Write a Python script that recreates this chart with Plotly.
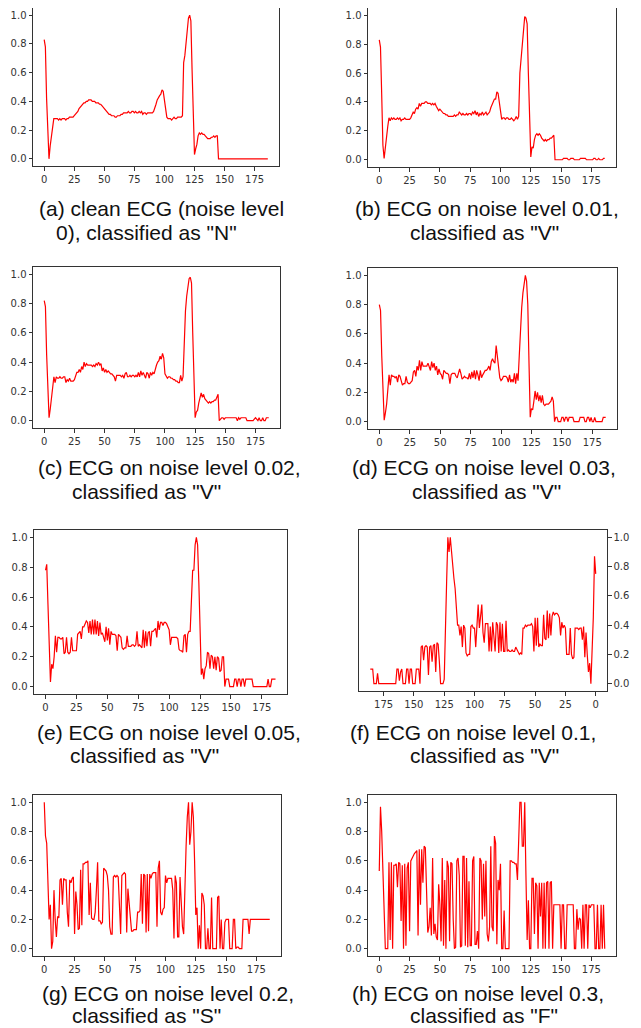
import plotly.graph_objects as go

W, H = 641, 1028
OFF = 8  # default page body margin of the written html

# ---------------- data ----------------
ecg_clean = [
    0.83, 0.78, 0.42, 0.12, 0.00, 0.09, 0.16, 0.23, 0.28, 0.28,
    0.28, 0.28, 0.27, 0.28, 0.27, 0.28, 0.28, 0.28, 0.27, 0.28,
    0.28, 0.29, 0.29, 0.29, 0.29, 0.30, 0.31, 0.32, 0.33, 0.35,
    0.36, 0.37, 0.38, 0.39, 0.39, 0.40, 0.40, 0.41, 0.41, 0.41,
    0.40, 0.40, 0.40, 0.39, 0.39, 0.39, 0.38, 0.38, 0.37, 0.36,
    0.35, 0.34, 0.33, 0.32, 0.31, 0.31, 0.30, 0.30, 0.30, 0.29,
    0.29, 0.30, 0.30, 0.30, 0.31, 0.31, 0.32, 0.32, 0.32, 0.32,
    0.33, 0.32, 0.32, 0.33, 0.33, 0.32, 0.33, 0.32, 0.32, 0.33,
    0.32, 0.33, 0.31, 0.32, 0.32, 0.31, 0.32, 0.32, 0.32, 0.32,
    0.32, 0.33, 0.35, 0.38, 0.41, 0.43, 0.44, 0.45, 0.48, 0.47,
    0.42, 0.35, 0.29, 0.28, 0.28, 0.28, 0.27, 0.28, 0.29, 0.28,
    0.28, 0.29, 0.29, 0.29, 0.29, 0.30, 0.67, 0.72, 0.80, 0.88,
    0.98, 1.00, 0.96, 0.62, 0.30, 0.03, 0.07, 0.10, 0.16, 0.18,
    0.17, 0.18, 0.17, 0.17, 0.16, 0.15, 0.14, 0.14, 0.14, 0.15,
    0.15, 0.16, 0.15, 0.16, 0.16, 0.00, 0.00, 0.00, 0.00, 0.00,
    0.00, 0.00, 0.00, 0.00, 0.00, 0.00, 0.00, 0.00, 0.00, 0.00,
    0.00, 0.00, 0.00, 0.00, 0.00, 0.00, 0.00, 0.00, 0.00, 0.00,
    0.00, 0.00, 0.00, 0.00, 0.00, 0.00, 0.00, 0.00, 0.00, 0.00,
    0.00, 0.00, 0.00, 0.00, 0.00, 0.00, 0.00,
]

ecg_noise_001 = [
    0.83, 0.78, 0.45, 0.10, 0.01, 0.10, 0.18, 0.23, 0.29, 0.27,
    0.29, 0.28, 0.29, 0.28, 0.28, 0.29, 0.28, 0.29, 0.27, 0.28,
    0.28, 0.29, 0.28, 0.28, 0.28, 0.28, 0.29, 0.31, 0.33, 0.32,
    0.35, 0.36, 0.35, 0.39, 0.37, 0.39, 0.39, 0.39, 0.40, 0.40,
    0.39, 0.39, 0.39, 0.38, 0.39, 0.38, 0.39, 0.37, 0.35, 0.34,
    0.35, 0.34, 0.33, 0.32, 0.32, 0.31, 0.31, 0.30, 0.30, 0.30,
    0.30, 0.30, 0.31, 0.30, 0.31, 0.31, 0.33, 0.32, 0.31, 0.32,
    0.31, 0.31, 0.32, 0.31, 0.32, 0.32, 0.31, 0.33, 0.32, 0.34,
    0.31, 0.33, 0.30, 0.32, 0.31, 0.33, 0.31, 0.32, 0.33, 0.31,
    0.32, 0.33, 0.36, 0.38, 0.40, 0.42, 0.42, 0.47, 0.46, 0.40,
    0.35, 0.28, 0.29, 0.29, 0.28, 0.29, 0.29, 0.28, 0.28, 0.29,
    0.28, 0.27, 0.28, 0.30, 0.28, 0.30, 0.60, 0.70, 0.80, 0.88,
    0.99, 0.98, 0.94, 0.60, 0.25, 0.02, 0.09, 0.08, 0.14, 0.17,
    0.18, 0.17, 0.18, 0.17, 0.15, 0.14, 0.13, 0.14, 0.13, 0.14,
    0.14, 0.15, 0.15, 0.16, 0.17, 0.00, 0.00, 0.00, 0.00, 0.00,
    0.00, 0.00, 0.01, 0.01, 0.01, 0.01, 0.00, 0.00, 0.01, 0.01,
    0.01, 0.00, 0.00, 0.00, 0.00, 0.00, 0.01, 0.01, 0.01, 0.01,
    0.01, 0.00, 0.00, 0.00, 0.00, 0.00, 0.00, 0.01, 0.01, 0.00,
    0.00, 0.01, 0.00, 0.00, 0.00, 0.01, 0.01,
]

ecg_noise_002 = [
    0.82, 0.78, 0.45, 0.15, 0.02, 0.08, 0.15, 0.22, 0.30, 0.26,
    0.30, 0.29, 0.29, 0.30, 0.29, 0.29, 0.30, 0.30, 0.26, 0.28,
    0.27, 0.29, 0.27, 0.27, 0.27, 0.28, 0.30, 0.33, 0.33, 0.35,
    0.33, 0.37, 0.35, 0.40, 0.37, 0.39, 0.38, 0.38, 0.38, 0.38,
    0.37, 0.38, 0.37, 0.39, 0.38, 0.40, 0.38, 0.39, 0.34, 0.36,
    0.33, 0.35, 0.33, 0.34, 0.33, 0.32, 0.32, 0.31, 0.30, 0.27,
    0.31, 0.31, 0.31, 0.31, 0.30, 0.31, 0.29, 0.32, 0.33, 0.30,
    0.30, 0.31, 0.30, 0.31, 0.31, 0.30, 0.31, 0.30, 0.33, 0.30,
    0.34, 0.31, 0.33, 0.31, 0.29, 0.33, 0.32, 0.29, 0.33, 0.31,
    0.33, 0.32, 0.36, 0.38, 0.40, 0.41, 0.44, 0.42, 0.46, 0.43,
    0.32, 0.30, 0.29, 0.30, 0.30, 0.29, 0.29, 0.28, 0.28, 0.27,
    0.27, 0.26, 0.26, 0.31, 0.27, 0.30, 0.55, 0.75, 0.85, 0.93,
    0.97, 0.98, 0.94, 0.60, 0.25, 0.02, 0.06, 0.07, 0.12, 0.15,
    0.19, 0.16, 0.18, 0.15, 0.14, 0.13, 0.12, 0.13, 0.12, 0.13,
    0.13, 0.14, 0.14, 0.16, 0.18, 0.00, 0.01, 0.02, 0.02, 0.01,
    0.02, 0.02, 0.02, 0.02, 0.02, 0.02, 0.02, 0.02, 0.02, 0.02,
    0.00, 0.02, 0.01, 0.02, 0.02, 0.02, 0.02, 0.02, 0.00, 0.00,
    0.00, 0.00, 0.00, 0.00, 0.01, 0.02, 0.01, 0.00, 0.02, 0.00,
    0.00, 0.02, 0.00, 0.00, 0.02, 0.02, 0.02,
]

ecg_noise_003 = [
    0.80, 0.76, 0.45, 0.15, 0.01, 0.06, 0.12, 0.22, 0.32, 0.25,
    0.32, 0.31, 0.31, 0.30, 0.31, 0.27, 0.32, 0.31, 0.28, 0.25,
    0.26, 0.26, 0.31, 0.27, 0.26, 0.26, 0.27, 0.28, 0.34, 0.35,
    0.31, 0.38, 0.35, 0.42, 0.35, 0.41, 0.38, 0.38, 0.38, 0.38,
    0.40, 0.37, 0.35, 0.41, 0.37, 0.40, 0.35, 0.38, 0.32, 0.36,
    0.33, 0.32, 0.29, 0.35, 0.34, 0.33, 0.33, 0.32, 0.26, 0.32,
    0.33, 0.33, 0.33, 0.31, 0.30, 0.33, 0.36, 0.33, 0.29, 0.30,
    0.31, 0.30, 0.30, 0.29, 0.33, 0.29, 0.34, 0.30, 0.35, 0.29,
    0.35, 0.32, 0.28, 0.35, 0.30, 0.32, 0.34, 0.35, 0.35, 0.36,
    0.38, 0.35, 0.41, 0.43, 0.41, 0.40, 0.52, 0.45, 0.36, 0.30,
    0.28, 0.29, 0.31, 0.31, 0.31, 0.30, 0.27, 0.32, 0.27, 0.29,
    0.27, 0.33, 0.26, 0.33, 0.28, 0.45, 0.65, 0.78, 0.88, 0.95,
    1.00, 0.96, 0.80, 0.40, 0.03, 0.09, 0.08, 0.14, 0.21, 0.15,
    0.20, 0.14, 0.18, 0.13, 0.18, 0.12, 0.11, 0.12, 0.12, 0.12,
    0.13, 0.14, 0.17, 0.14, 0.00, 0.03, 0.03, 0.00, 0.00, 0.00,
    0.03, 0.03, 0.00, 0.03, 0.03, 0.00, 0.03, 0.03, 0.03, 0.03,
    0.00, 0.00, 0.00, 0.00, 0.00, 0.03, 0.03, 0.03, 0.03, 0.00,
    0.00, 0.03, 0.03, 0.00, 0.03, 0.00, 0.00, 0.03, 0.00, 0.00,
    0.00, 0.00, 0.00, 0.00, 0.03, 0.03, 0.03,
]

ecg_noise_005 = [
    0.78, 0.82, 0.55, 0.25, 0.03, 0.15, 0.12, 0.20, 0.34, 0.23,
    0.33, 0.33, 0.32, 0.32, 0.33, 0.22, 0.23, 0.33, 0.23, 0.22,
    0.23, 0.33, 0.24, 0.24, 0.24, 0.24, 0.35, 0.36, 0.37, 0.32,
    0.40, 0.40, 0.42, 0.44, 0.43, 0.36, 0.44, 0.35, 0.45, 0.35,
    0.45, 0.35, 0.44, 0.34, 0.43, 0.35, 0.36, 0.32, 0.30, 0.40,
    0.31, 0.39, 0.28, 0.37, 0.35, 0.35, 0.35, 0.34, 0.24, 0.35,
    0.34, 0.33, 0.26, 0.25, 0.26, 0.26, 0.34, 0.27, 0.27, 0.27,
    0.28, 0.28, 0.27, 0.28, 0.37, 0.27, 0.28, 0.27, 0.26, 0.38,
    0.26, 0.37, 0.27, 0.36, 0.37, 0.27, 0.37, 0.37, 0.38, 0.39,
    0.33, 0.44, 0.38, 0.43, 0.43, 0.41, 0.43, 0.43, 0.42, 0.40,
    0.38, 0.28, 0.33, 0.33, 0.33, 0.33, 0.33, 0.32, 0.25, 0.24,
    0.24, 0.23, 0.34, 0.35, 0.23, 0.35, 0.37, 0.37, 0.60, 0.78,
    0.78, 0.95, 1.00, 0.95, 0.70, 0.35, 0.08, 0.12, 0.05, 0.12,
    0.14, 0.23, 0.22, 0.12, 0.21, 0.20, 0.12, 0.20, 0.11, 0.20,
    0.19, 0.10, 0.11, 0.20, 0.20, 0.00, 0.05, 0.05, 0.05, 0.00,
    0.00, 0.00, 0.00, 0.05, 0.05, 0.00, 0.05, 0.05, 0.00, 0.05,
    0.05, 0.00, 0.05, 0.05, 0.05, 0.05, 0.05, 0.05, 0.00, 0.00,
    0.00, 0.00, 0.00, 0.00, 0.00, 0.00, 0.00, 0.00, 0.00, 0.00,
    0.05, 0.00, 0.00, 0.05, 0.05, 0.05, 0.05,
]

ecg_noise_01 = [
    0.75, 0.87, 0.45, 0.20, 0.00, 0.14, 0.08, 0.20, 0.35, 0.18,
    0.39, 0.30, 0.38, 0.38, 0.37, 0.38, 0.38, 0.38, 0.18, 0.17,
    0.20, 0.38, 0.20, 0.20, 0.20, 0.38, 0.40, 0.38, 0.42, 0.33,
    0.45, 0.47, 0.48, 0.48, 0.47, 0.49, 0.46, 0.33, 0.48, 0.31,
    0.50, 0.30, 0.31, 0.47, 0.26, 0.26, 0.27, 0.25, 0.45, 0.26,
    0.45, 0.22, 0.39, 0.41, 0.40, 0.40, 0.40, 0.39, 0.40, 0.38,
    0.38, 0.20, 0.21, 0.20, 0.22, 0.23, 0.25, 0.22, 0.22, 0.23,
    0.22, 0.22, 0.23, 0.22, 0.43, 0.22, 0.22, 0.41, 0.22, 0.42,
    0.21, 0.40, 0.42, 0.22, 0.33, 0.42, 0.22, 0.39, 0.22, 0.41,
    0.41, 0.41, 0.28, 0.35, 0.54, 0.45, 0.38, 0.54, 0.40, 0.25,
    0.38, 0.38, 0.40, 0.39, 0.20, 0.20, 0.19, 0.21, 0.38, 0.40,
    0.25, 0.39, 0.33, 0.40, 0.40, 0.55, 0.65, 0.72, 0.80, 0.90,
    1.00, 0.90, 1.00, 0.70, 0.35, 0.03, 0.00, 0.00, 0.00, 0.15,
    0.27, 0.28, 0.08, 0.27, 0.26, 0.15, 0.26, 0.25, 0.06, 0.25,
    0.26, 0.25, 0.16, 0.26, 0.25, 0.00, 0.10, 0.10, 0.10, 0.00,
    0.00, 0.00, 0.10, 0.10, 0.00, 0.10, 0.10, 0.00, 0.00, 0.00,
    0.10, 0.08, 0.02, 0.10, 0.10, 0.00, 0.00, 0.00, 0.00, 0.00,
    0.00, 0.00, 0.00, 0.00, 0.00, 0.00, 0.00, 0.00, 0.00, 0.00,
    0.07, 0.00, 0.00, 0.00, 0.10, 0.10, 0.10,
]

ecg_noise_02 = [
    1.00, 0.77, 0.72, 0.45, 0.20, 0.30, 0.00, 0.05, 0.40, 0.20,
    0.08, 0.22, 0.21, 0.47, 0.48, 0.30, 0.48, 0.47, 0.47, 0.25,
    0.15, 0.47, 0.45, 0.48, 0.49, 0.10, 0.39, 0.30, 0.13, 0.14,
    0.54, 0.16, 0.58, 0.58, 0.59, 0.59, 0.60, 0.23, 0.45, 0.21,
    0.20, 0.20, 0.25, 0.40, 0.59, 0.19, 0.19, 0.17, 0.18, 0.55,
    0.54, 0.53, 0.50, 0.40, 0.15, 0.10, 0.10, 0.49, 0.50, 0.49,
    0.50, 0.49, 0.30, 0.10, 0.50, 0.51, 0.52, 0.51, 0.11, 0.41,
    0.30, 0.20, 0.12, 0.12, 0.13, 0.13, 0.13, 0.25, 0.25, 0.26,
    0.51, 0.17, 0.51, 0.50, 0.11, 0.51, 0.12, 0.51, 0.48, 0.51,
    0.52, 0.52, 0.52, 0.15, 0.55, 0.60, 0.25, 0.23, 0.27, 0.28,
    0.50, 0.45, 0.48, 0.48, 0.48, 0.48, 0.40, 0.07, 0.50, 0.45,
    0.08, 0.08, 0.49, 0.30, 0.15, 0.10, 0.45, 0.70, 0.90, 1.00,
    0.71, 0.80, 1.00, 0.90, 0.60, 0.23, 0.28, 0.00, 0.16, 0.00,
    0.38, 0.36, 0.30, 0.00, 0.00, 0.14, 0.00, 0.00, 0.35, 0.00,
    0.00, 0.00, 0.00, 0.35, 0.36, 0.00, 0.20, 0.00, 0.00, 0.18,
    0.20, 0.20, 0.20, 0.00, 0.00, 0.00, 0.20, 0.20, 0.00, 0.01,
    0.01, 0.00, 0.00, 0.00, 0.20, 0.20, 0.20, 0.20, 0.20, 0.10,
    0.20, 0.20, 0.20, 0.20, 0.20, 0.20, 0.20, 0.20, 0.20, 0.20,
    0.20, 0.20, 0.20, 0.20, 0.20, 0.20, 0.20,
]

ecg_noise_03 = [
    0.53, 0.97, 0.80, 0.50, 0.20, 0.00, 0.00, 0.00, 0.59, 0.06,
    0.59, 0.00, 0.57, 0.57, 0.58, 0.42, 0.59, 0.58, 0.19, 0.57,
    0.00, 0.58, 0.02, 0.55, 0.59, 0.12, 0.60, 0.62, 0.63, 0.65,
    0.66, 0.67, 0.09, 0.68, 0.30, 0.68, 0.45, 0.70, 0.69, 0.35,
    0.11, 0.15, 0.28, 0.09, 0.62, 0.10, 0.17, 0.08, 0.06, 0.44,
    0.30, 0.05, 0.62, 0.02, 0.47, 0.00, 0.60, 0.56, 0.05, 0.59,
    0.58, 0.20, 0.00, 0.01, 0.60, 0.62, 0.50, 0.01, 0.02, 0.63,
    0.63, 0.02, 0.62, 0.01, 0.46, 0.02, 0.02, 0.60, 0.63, 0.03,
    0.03, 0.12, 0.00, 0.62, 0.60, 0.20, 0.58, 0.22, 0.60, 0.10,
    0.05, 0.15, 0.70, 0.15, 0.12, 0.77, 0.72, 0.03, 0.47, 0.40,
    0.58, 0.00, 0.00, 0.26, 0.00, 0.00, 0.00, 0.00, 0.60, 0.60,
    0.59, 0.59, 0.58, 0.58, 0.47, 0.80, 1.00, 1.00, 0.70, 0.70,
    1.00, 0.50, 0.06, 0.33, 0.00, 0.00, 0.48, 0.48, 0.10, 0.45,
    0.43, 0.00, 0.45, 0.22, 0.45, 0.00, 0.45, 0.00, 0.45, 0.46,
    0.00, 0.45, 0.46, 0.00, 0.30, 0.30, 0.30, 0.30, 0.30, 0.30,
    0.00, 0.30, 0.30, 0.00, 0.00, 0.30, 0.30, 0.30, 0.30, 0.30,
    0.30, 0.00, 0.00, 0.27, 0.13, 0.21, 0.20, 0.00, 0.30, 0.00,
    0.30, 0.30, 0.00, 0.30, 0.28, 0.30, 0.30, 0.30, 0.00, 0.00,
    0.30, 0.00, 0.00, 0.30, 0.00, 0.30, 0.00,
]

series = [ecg_clean, ecg_noise_001, ecg_noise_002, ecg_noise_003,
          ecg_noise_005, ecg_noise_01, ecg_noise_02, ecg_noise_03]

captions = [
    ('(a) clean ECG (noise level', '0), classified as "N"'),
    ('(b) ECG on noise level 0.01,', 'classified as "V"'),
    ('(c) ECG on noise level 0.02,', 'classified as "V"'),
    ('(d) ECG on noise level 0.03,', 'classified as "V"'),
    ('(e) ECG on noise level 0.05,', 'classified as "V"'),
    ('(f) ECG on noise level 0.1,', 'classified as "V"'),
    ('(g) ECG on noise level 0.2,', 'classified as "S"'),
    ('(h) ECG on noise level 0.3,', 'classified as "F"'),
]

x_ticks = [0, 25, 50, 75, 100, 125, 150, 175]
y_ticks = [0.0, 0.2, 0.4, 0.6, 0.8, 1.0]

# ---------------- layout geometry (page pixels) ----------------
# plot frames: (left, right, top, bottom)
frames = [
    (33, 279, 8, 166), (368, 616, 8, 167),
    (33, 280, 267, 428), (368, 617, 268, 429),
    (34, 287, 530, 694), (359, 607, 530, 691),
    (33, 281, 795, 956), (368, 616, 795, 956),
]
# caption positions: (x1, y1, x2, y2) left edge and vertical centre
cap_pos = [
    (38, 209, 55, 232), (354, 209, 409, 232),
    (37, 468, 71.5, 491), (351, 468, 411, 491),
    (36, 732, 69.5, 755), (349.5, 732, 409, 755),
    (41, 993, 71.5, 1015), (351.6, 993, 409, 1015),
]

FW, FH = W - OFF, H - OFF


def px(v):
    return min(1.0, max(0.0, (v - OFF) / FW))


def py(v):
    return min(1.0, max(0.0, 1 - (v - OFF) / FH))


fig = go.Figure()
axis_common = dict(
    showline=True, mirror=True, linecolor='#333333', linewidth=1,
    ticks='outside', ticklen=3.5, tickwidth=1, tickcolor='#333333',
    showgrid=False, zeroline=False,
    tickfont=dict(family='DejaVu Sans', size=10, color='#333333'),
)

layout = {}
annotations = []
for i, ys in enumerate(series):
    n = i + 1
    xs = list(range(len(ys)))
    xname = 'x' if n == 1 else f'x{n}'
    yname = 'y' if n == 1 else f'y{n}'
    fig.add_trace(go.Scatter(
        x=xs, y=ys, mode='lines', xaxis=xname, yaxis=yname,
        line=dict(color='#ff0000', width=1.2), showlegend=False,
        hoverinfo='skip'))
    l, r, t, b = frames[i]
    xmax = len(ys) - 1
    pad = xmax * 0.05
    xr = [-pad, xmax + pad]
    mirrored = (i == 5)
    if mirrored:
        xr = xr[::-1]
    layout['xaxis' if n == 1 else f'xaxis{n}'] = dict(
        axis_common, domain=[px(l), px(r)], anchor=yname, range=xr,
        tickvals=x_ticks)
    layout['yaxis' if n == 1 else f'yaxis{n}'] = dict(
        axis_common, domain=[py(b), py(t)], anchor=xname,
        range=[-0.05, 1.05], tickvals=y_ticks, tickformat='.1f',
        side='right' if mirrored else 'left')
    x1, y1, x2, y2 = cap_pos[i]
    for (tx, ty, txt) in ((x1, y1, captions[i][0]), (x2, y2, captions[i][1])):
        annotations.append(dict(
            x=px(tx - 1.5), y=py(ty), xref='paper', yref='paper',
            xanchor='left', yanchor='middle', showarrow=False, text=txt,
            font=dict(family='Liberation Sans, Arial', size=21,
                      color='#111111')))

fig.update_layout(
    width=FW, height=FH, margin=dict(l=0, r=0, t=0, b=0),
    paper_bgcolor='white', plot_bgcolor='white',
    annotations=annotations, **layout)

fig.write_html('out.html')
